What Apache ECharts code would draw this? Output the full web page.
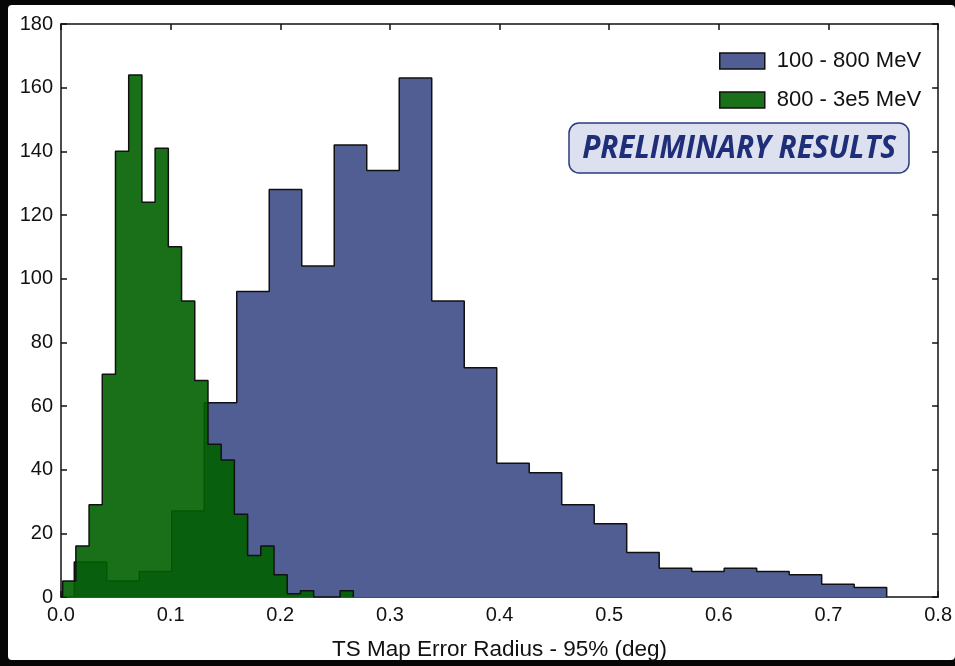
<!DOCTYPE html>
<html>
<head>
<meta charset="utf-8">
<title>TS Map Error Radius</title>
<script src="https://cdn.jsdelivr.net/npm/echarts@6/dist/echarts.min.js"></script>
<style>
  html, body { margin: 0; padding: 0; background: #060606; }
  #chart { width: 955px; height: 666px; }
</style>
</head>
<body>
<div id="chart"></div>
<script>
// histogram data (counts per bin)
var lowName = '100 - 800 MeV';
var highName = '800 - 3e5 MeV';
var lowStart = 0.0121, lowWidth = 0.02964;
var lowCounts = [11, 5, 8, 27, 61, 96, 128, 104, 142, 134, 163, 93, 72, 42, 39, 29, 23, 14, 9, 8, 9, 8, 7, 4, 3];
var highStart = 0.0015, highWidth = 0.01205;
var highCounts = [5, 16, 29, 70, 140, 164, 124, 141, 110, 93, 68, 48, 43, 26, 13, 16, 7, 1, 2, 0, 0, 2];
var xTicks = [0, 0.8, 0.1];
var yTicks = [0, 180, 20];

// turn bin counts into step points: (edge0,0), (edge_i, n_i) ..., (edgeN, 0)
function stepPoints(start, width, counts) {
    var pts = [[start, 0]];
    for (var i = 0; i < counts.length; i++) {
        pts.push([start + i * width, counts[i]]);
    }
    pts.push([start + counts.length * width, 0]);
    return pts;
}

var font = '"Liberation Sans", Arial, sans-serif';
var myChart = echarts.init(document.getElementById('chart'));

var axisCommon = {
    type: 'value',
    splitLine: { show: false },
    axisLine: { show: true, onZero: false, lineStyle: { color: '#111', width: 1.5 } },
    axisTick: { show: true, inside: true, length: 6, lineStyle: { color: '#111', width: 1.5 } }
};

var option = {
    backgroundColor: '#060606',
    animation: false,
    graphic: [
        {
            type: 'rect', z: -10, silent: true,
            shape: { x: 8, y: 5, width: 947, height: 655, r: 4 },
            style: { fill: '#ffffff' }
        },
        {
            type: 'rect', z: 100,
            shape: { x: 569, y: 123, width: 340, height: 50, r: 10 },
            style: { fill: '#dde0ee', stroke: '#2b3a80', lineWidth: 1.5 }
        },
        {
            type: 'text', z: 101,
            x: 739, y: 149,
            scaleX: 0.9,
            style: {
                text: 'PRELIMINARY RESULTS',
                font: 'italic bold 33px "Open Sans", sans-serif',
                fill: '#1f2e78',
                align: 'center',
                verticalAlign: 'middle'
            }
        }
    ],
    legend: {
        orient: 'vertical',
        left: 714,
        top: 45,
        itemWidth: 45,
        itemHeight: 16,
        itemGap: 17,
        icon: 'rect',
        textStyle: { fontFamily: font, fontSize: 22, color: '#111', padding: [0, 0, 0, 7] },
        data: [
            { name: lowName, itemStyle: { color: '#515e94', borderColor: '#111', borderWidth: 1.5 } },
            { name: highName, itemStyle: { color: '#1b701a', borderColor: '#111', borderWidth: 1.5 } }
        ]
    },
    grid: { left: 61, right: 14, top: 24, bottom: 61.5 },
    xAxis: [
        Object.assign({}, axisCommon, {
            min: xTicks[0], max: xTicks[1], interval: xTicks[2],
            position: 'bottom',
            name: 'TS Map Error Radius - 95% (deg)',
            nameLocation: 'middle',
            nameGap: 41,
            nameTextStyle: { fontFamily: font, fontSize: 22.5, color: '#111' },
            axisLabel: {
                fontFamily: font, fontSize: 20, color: '#111', margin: 8,
                formatter: function (v) { return v.toFixed(1); }
            }
        }),
        Object.assign({}, axisCommon, {
            min: xTicks[0], max: xTicks[1], interval: xTicks[2],
            position: 'top',
            axisLabel: { show: false }
        })
    ],
    yAxis: [
        Object.assign({}, axisCommon, {
            min: yTicks[0], max: yTicks[1], interval: yTicks[2],
            position: 'left',
            axisLabel: { fontFamily: font, fontSize: 20, color: '#111', margin: 8 }
        }),
        Object.assign({}, axisCommon, {
            min: yTicks[0], max: yTicks[1], interval: yTicks[2],
            position: 'right',
            axisLabel: { show: false }
        })
    ],
    series: [
        {
            name: lowName,
            type: 'line',
            step: 'end',
            symbol: 'none',
            data: stepPoints(lowStart, lowWidth, lowCounts),
            lineStyle: { color: '#111', width: 1.5 },
            itemStyle: { color: '#515e94' },
            areaStyle: { color: '#515e94', opacity: 1 },
            z: 2
        },
        {
            name: highName,
            type: 'line',
            step: 'end',
            symbol: 'none',
            data: stepPoints(highStart, highWidth, highCounts),
            lineStyle: { color: '#111', width: 1.5 },
            itemStyle: { color: '#1b701a' },
            areaStyle: { color: 'rgba(0,96,0,0.9)', opacity: 1 },
            z: 3
        }
    ]
};
myChart.setOption(option);
</script>
</body>
</html>
